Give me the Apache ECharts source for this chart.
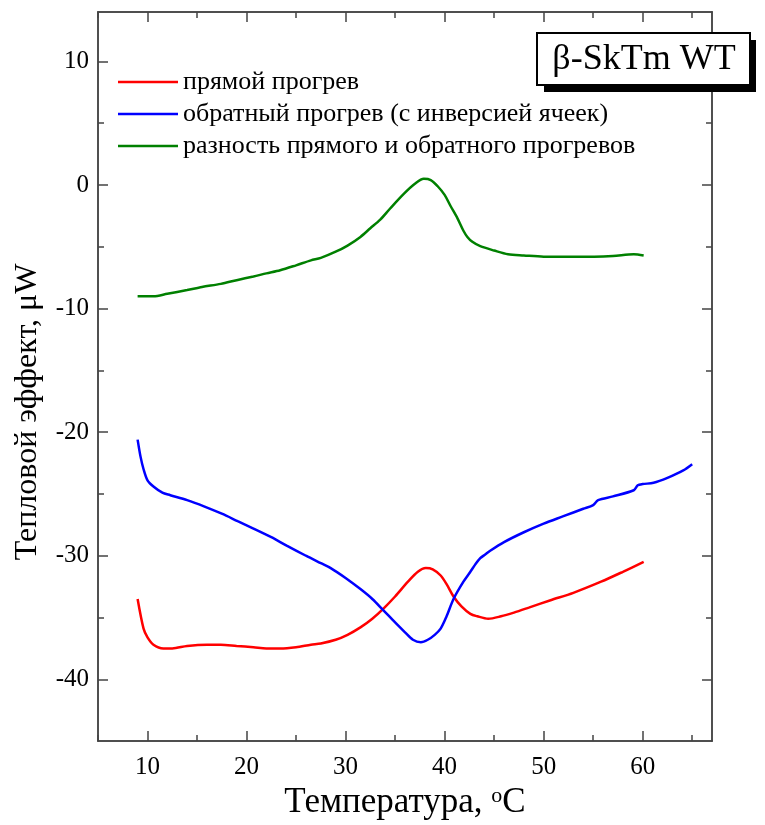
<!DOCTYPE html>
<html>
<head>
<meta charset="utf-8">
<title>β-SkTm WT</title>
<script src="https://cdn.jsdelivr.net/npm/echarts@6/dist/echarts.min.js"></script>
<style>
  html, body { margin: 0; padding: 0; background: #fff; }
  #chart { width: 765px; height: 825px; }
</style>
</head>
<body>
<div id="chart"></div>
<script>
// прямой прогрев
const forwardT = [9.0, 9.6, 10.0, 10.6, 11.6, 12.5, 14.0, 16.0, 17.4, 19.0, 20.7, 22.0, 23.4, 25.0, 26.5, 27.5, 29.0, 30.2, 31.5, 32.7, 33.8, 35.0, 36.3, 37.3, 38.1, 38.8, 39.6, 40.2, 40.9, 41.7, 42.6, 43.3, 44.4, 45.7, 47.0, 48.5, 50.7, 53.0, 55.8, 58.0, 60.1];
const forwardV = [-33.5, -35.9, -36.6, -37.2, -37.5, -37.5, -37.3, -37.2, -37.2, -37.3, -37.4, -37.5, -37.5, -37.4, -37.2, -37.1, -36.8, -36.4, -35.8, -35.1, -34.3, -33.3, -32.1, -31.3, -31.0, -31.1, -31.6, -32.3, -33.3, -34.1, -34.7, -34.9, -35.1, -34.9, -34.6, -34.2, -33.6, -33.0, -32.1, -31.3, -30.5];

// обратный прогрев (с инверсией ячеек)
const reverseT = [9.0, 9.3, 9.6, 10.0, 10.6, 11.5, 12.3, 14.0, 15.7, 17.5, 19.1, 20.7, 22.5, 24.1, 26.0, 27.5, 28.5, 30.0, 31.5, 32.7, 33.8, 35.0, 36.0, 36.8, 37.6, 38.3, 39.0, 39.6, 40.2, 40.9, 41.9, 42.6, 43.1, 43.6, 44.1, 44.6, 46.0, 48.0, 50.0, 52.0, 54.0, 55.0, 55.5, 57.0, 59.1, 59.5, 60.0, 61.1, 62.5, 64.1, 65.0];
const reverseV = [-20.6, -22.0, -23.0, -23.9, -24.4, -24.9, -25.1, -25.5, -26.0, -26.6, -27.2, -27.8, -28.5, -29.2, -30.0, -30.6, -31.0, -31.8, -32.7, -33.5, -34.4, -35.4, -36.2, -36.8, -37.0, -36.8, -36.4, -35.9, -34.9, -33.5, -32.1, -31.3, -30.7, -30.2, -29.9, -29.6, -28.9, -28.1, -27.4, -26.8, -26.2, -25.9, -25.5, -25.2, -24.7, -24.3, -24.2, -24.1, -23.7, -23.1, -22.6];

// разность прямого и обратного прогревов
const diffT = [9.0, 10.0, 10.6, 12.0, 14.0, 15.5, 17.4, 19.0, 20.7, 22.0, 23.4, 25.0, 26.5, 27.5, 29.0, 30.2, 31.5, 32.5, 33.5, 34.5, 35.9, 37.0, 37.9, 38.6, 39.3, 40.0, 40.6, 41.3, 41.9, 42.3, 42.8, 43.6, 45.0, 46.4, 48.0, 50.0, 52.0, 55.1, 57.0, 59.1, 60.1];
const diffV = [-9.0, -9.0, -9.0, -8.8, -8.5, -8.25, -8.0, -7.7, -7.4, -7.15, -6.9, -6.5, -6.1, -5.9, -5.4, -4.9, -4.2, -3.5, -2.8, -1.9, -0.7, 0.1, 0.5, 0.4, -0.1, -0.8, -1.7, -2.7, -3.7, -4.2, -4.6, -4.95, -5.3, -5.6, -5.7, -5.8, -5.8, -5.8, -5.75, -5.6, -5.7];

const seriesNames = ['прямой прогрев', 'обратный прогрев (с инверсией ячеек)', 'разность прямого и обратного прогревов'];
const seriesColors = ['#ff0000', '#0000ff', '#008000'];

const xMajorTicks = [10, 20, 30, 40, 50, 60];
const xMinorTicks = [5, 15, 25, 35, 45, 55, 65];
const yMajorTicks = [-40, -30, -20, -10, 0, 10];
const yMinorTicks = [-35, -25, -15, -5, 5];

const FONT = '"Liberation Serif", "Times New Roman", serif';
const AXIS_COLOR = '#444';

function zip(xs, ys) {
  return xs.map((x, i) => [x, ys[i]]);
}

// one axis = one set of inside ticks, labels only on the bottom/left major axes
function makeAxis(kind, position, ticks, tickLen, withLabels, min, max) {
  return {
    type: 'value',
    position: position,
    min: min,
    max: max,
    splitLine: { show: false },
    axisLine: { show: true, onZero: false, lineStyle: { color: AXIS_COLOR, width: 1.5 } },
    axisTick: {
      show: true,
      inside: true,
      length: tickLen,
      customValues: ticks,
      lineStyle: { color: AXIS_COLOR, width: 1.5 }
    },
    axisLabel: {
      show: withLabels,
      customValues: ticks,
      margin: kind === 'x' ? 14 : 9,
      fontFamily: FONT,
      fontSize: 25,
      color: '#000'
    }
  };
}

const chart = echarts.init(document.getElementById('chart'));

const xAxes = [
  makeAxis('x', 'bottom', xMajorTicks, 10, true, 5, 67),
  makeAxis('x', 'bottom', xMinorTicks, 6, false, 5, 67),
  makeAxis('x', 'top', xMajorTicks, 10, false, 5, 67),
  makeAxis('x', 'top', xMinorTicks, 6, false, 5, 67)
];
xAxes[0].name = 'Температура, {sup|o}C';
xAxes[0].nameLocation = 'middle';
xAxes[0].nameGap = 42;
xAxes[0].nameTextStyle = {
  fontFamily: FONT,
  fontSize: 35,
  color: '#000',
  rich: { sup: { fontFamily: FONT, fontSize: 22, color: '#000', verticalAlign: 'top' } }
};

const yAxes = [
  makeAxis('y', 'left', yMajorTicks, 10, true, -45, 14),
  makeAxis('y', 'left', yMinorTicks, 6, false, -45, 14),
  makeAxis('y', 'right', yMajorTicks, 10, false, -45, 14),
  makeAxis('y', 'right', yMinorTicks, 6, false, -45, 14)
];

const curves = [zip(forwardT, forwardV), zip(reverseT, reverseV), zip(diffT, diffV)];

const option = {
  animation: false,
  backgroundColor: '#fff',
  textStyle: { fontFamily: FONT },
  grid: { left: 98, right: 53, top: 12, bottom: 82 },
  xAxis: xAxes,
  yAxis: yAxes,
  legend: {
    orient: 'vertical',
    left: 118,
    top: 69,
    padding: 0,
    icon: 'rect',
    itemWidth: 60,
    itemHeight: 2.5,
    itemGap: 6,
    textStyle: { fontFamily: FONT, fontSize: 26, color: '#000' },
    data: seriesNames
  },
  series: seriesNames.map((name, i) => ({
    name: name,
    type: 'line',
    xAxisIndex: 0,
    yAxisIndex: 0,
    data: curves[i],
    symbol: 'none',
    showSymbol: false,
    smooth: 0.3,
    color: seriesColors[i],
    lineStyle: { color: seriesColors[i], width: 2.5 }
  })),
  graphic: [
    {
      type: 'text',
      x: 28,
      y: 412,
      rotation: Math.PI / 2,
      z: 100,
      style: {
        text: 'Тепловой эффект, μW',
        font: '32px ' + FONT,
        fill: '#000',
        align: 'center',
        verticalAlign: 'middle',
        textAlign: 'center',
        textVerticalAlign: 'middle'
      }
    },
    {
      type: 'rect',
      z: 100,
      shape: { x: 544, y: 40, width: 212, height: 52 },
      style: { fill: '#000' }
    },
    {
      type: 'rect',
      z: 101,
      shape: { x: 537, y: 33, width: 213, height: 52 },
      style: { fill: '#fff', stroke: '#000', lineWidth: 2 }
    },
    {
      type: 'text',
      x: 644,
      y: 60,
      z: 102,
      style: {
        text: 'β-SkTm WT',
        font: '36px ' + FONT,
        fill: '#000',
        align: 'center',
        verticalAlign: 'middle',
        textAlign: 'center',
        textVerticalAlign: 'middle'
      }
    }
  ]
};

chart.setOption(option);
</script>
</body>
</html>
